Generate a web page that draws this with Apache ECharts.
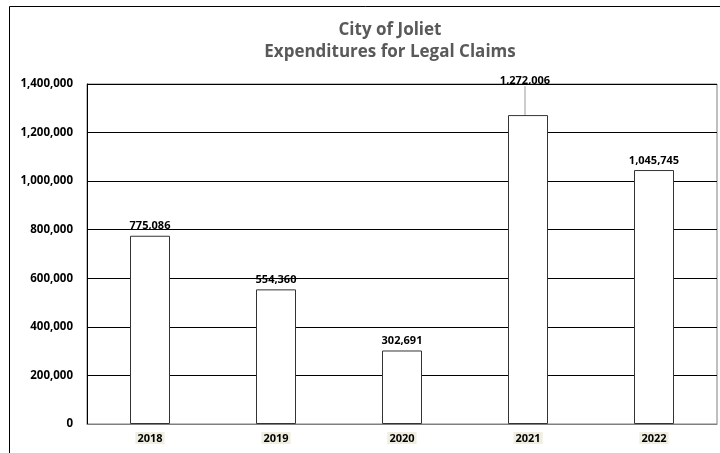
<!DOCTYPE html>
<html>
<head>
<meta charset="utf-8">
<script src="https://cdn.jsdelivr.net/npm/echarts@6/dist/echarts.min.js"></script>
<style>html,body{margin:0;padding:0;background:#fff;}#c{width:720px;height:453px;}</style>
</head>
<body>
<div id="c"></div>
<script>
const categories = ['2018', '2019', '2020', '2021', '2022'];
const expenditures = [775086, 554360, 302691, 1272006, 1045745];
const titleLines = ['City of Joliet', 'Expenditures for Legal Claims'];
const displacedLabelIndex = 3;

const FONT = '"Open Sans", sans-serif';
const chart = echarts.init(document.getElementById('c'));
chart.setOption({
  animation: false,
  title: {
    text: titleLines.join('\n'),
    left: 385,
    textAlign: 'center',
    top: 14,
    textStyle: { fontFamily: FONT, fontWeight: 'bold', fontSize: 17, color: '#595959', lineHeight: 22 }
  },
  graphic: [{
    type: 'rect',
    shape: { x: 9.5, y: 6.5, width: 800, height: 600 },
    style: { fill: 'none', stroke: '#000', lineWidth: 1 },
    silent: true, z: -1
  }],
  grid: { left: 87, right: 3, top: 84, bottom: 29, show: true, borderColor: '#808080', borderWidth: 1 },
  xAxis: {
    type: 'category',
    data: categories,
    axisLine: { show: true, lineStyle: { color: '#808080', width: 1 } },
    axisTick: { show: false },
    axisLabel: {
      margin: 8, fontFamily: FONT, fontWeight: 'bold', fontSize: 11, color: '#000',
      backgroundColor: '#efeee0', padding: [1, 2, 0, 2]
    }
  },
  yAxis: {
    type: 'value',
    min: 0, max: 1400000, interval: 200000,
    axisLine: { show: true, lineStyle: { color: '#000', width: 1 } },
    axisTick: { show: false },
    splitLine: { show: true, lineStyle: { color: '#000', width: 1 } },
    axisLabel: {
      margin: 14, fontFamily: FONT, fontWeight: 'bold', fontSize: 11.5, color: '#000',
      formatter: v => v.toLocaleString('en-US')
    }
  },
  series: [{
    type: 'bar',
    data: expenditures.map((v, i) => i === displacedLabelIndex ? { value: v, labelLine: { show: true } } : v),
    barWidth: 40,
    itemStyle: { color: '#fff', borderColor: '#333', borderWidth: 1 },
    label: {
      show: true, position: 'top', distance: 4,
      fontFamily: FONT, fontWeight: 'bold', fontSize: 11, color: '#000',
      formatter: p => p.value.toLocaleString('en-US')
    },
    labelLine: { show: false, lineStyle: { color: '#999', width: 1 } },
    labelLayout: function (params) {
      if (params.dataIndex === displacedLabelIndex) { return { dy: -25, dx: -3 }; }
      return {};
    }
  }]
});
</script>
</body>
</html>
